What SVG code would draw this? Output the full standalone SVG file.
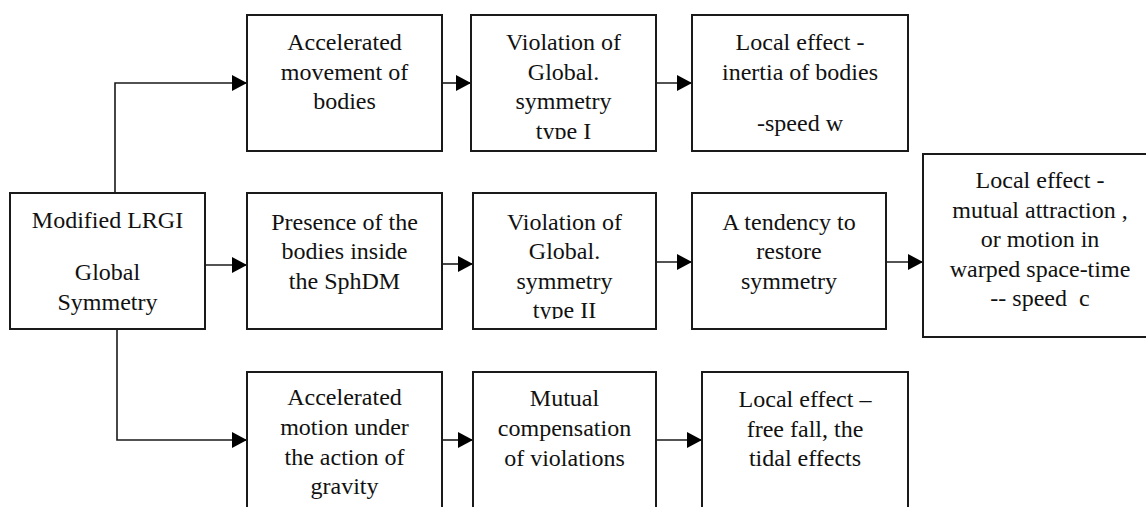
<svg xmlns="http://www.w3.org/2000/svg" width="1146" height="507" viewBox="0 0 1146 507">
<style>
.box{fill:#fff;stroke:#1a1a1a;stroke-width:2}
.t{font-family:'Liberation Serif','Tinos','DejaVu Serif','Noto Serif',serif;font-size:24px;fill:#111;text-anchor:middle}
.c{fill:none;stroke:#1a1a1a;stroke-width:1.6}
</style>
<defs>
<marker id="ah" markerUnits="userSpaceOnUse" markerWidth="16" markerHeight="18" refX="15" refY="8" orient="auto">
<path d="M0,0 L15,8 L0,16 Z" fill="#000"/>
</marker>
<clipPath id="clip1"><rect x="471" y="15" width="185" height="124"/></clipPath>
<clipPath id="clip2"><rect x="473" y="193" width="183" height="126"/></clipPath>
</defs>
<rect width="1146" height="507" fill="#fff"/>

<g id="connectors">
<path class="c" d="M115,193 V83 H247" marker-end="url(#ah)"/>
<path class="c" d="M442,83 H471" marker-end="url(#ah)"/>
<path class="c" d="M656,83 H692" marker-end="url(#ah)"/>
<path class="c" d="M205,265 H247" marker-end="url(#ah)"/>
<path class="c" d="M442,264 H473" marker-end="url(#ah)"/>
<path class="c" d="M656,262 H692" marker-end="url(#ah)"/>
<path class="c" d="M882,262 H923" marker-end="url(#ah)"/>
<path class="c" d="M117,329 V440 H247" marker-end="url(#ah)"/>
<path class="c" d="M442,440 H473" marker-end="url(#ah)"/>
<path class="c" d="M656,440 H702" marker-end="url(#ah)"/>
</g>

<g id="n-modified">
<rect class="box" x="10" y="193" width="195" height="136"/>
<text class="t" x="107.5" y="228">Modified LRGI</text>
<text class="t" x="107.5" y="280">Global</text>
<text class="t" x="107.5" y="310">Symmetry</text>
</g>

<g id="n-accel-move">
<rect class="box" x="247" y="15" width="195" height="136"/>
<text class="t" x="344.5" y="50">Accelerated</text>
<text class="t" x="344.5" y="79.5">movement of</text>
<text class="t" x="344.5" y="109">bodies</text>
</g>

<g id="n-viol1">
<rect class="box" x="471" y="15" width="185" height="136"/>
<g clip-path="url(#clip1)">
<text class="t" x="563.5" y="50">Violation of</text>
<text class="t" x="563.5" y="79.5">Global.</text>
<text class="t" x="563.5" y="109">symmetry</text>
<text class="t" x="563.5" y="138.5">type I</text>
</g>
</g>

<g id="n-local1">
<rect class="box" x="692" y="15" width="216" height="136"/>
<text class="t" x="800" y="50">Local effect -</text>
<text class="t" x="800" y="79.5">inertia of bodies</text>
<text class="t" x="800" y="131">-speed w</text>
</g>

<g id="n-presence">
<rect class="box" x="247" y="193" width="195" height="136"/>
<text class="t" x="344.5" y="229.5">Presence of the</text>
<text class="t" x="344.5" y="259">bodies inside</text>
<text class="t" x="344.5" y="288.5">the SphDM</text>
</g>

<g id="n-viol2">
<rect class="box" x="473" y="193" width="183" height="136"/>
<g clip-path="url(#clip2)">
<text class="t" x="564.5" y="229.5">Violation of</text>
<text class="t" x="564.5" y="259">Global.</text>
<text class="t" x="564.5" y="288.5">symmetry</text>
<text class="t" x="564.5" y="318">type II</text>
</g>
</g>

<g id="n-tendency">
<rect class="box" x="692" y="193" width="194" height="136"/>
<text class="t" x="789" y="229.5">A tendency to</text>
<text class="t" x="789" y="259">restore</text>
<text class="t" x="789" y="288.5">symmetry</text>
</g>

<g id="n-local-c">
<rect class="box" x="923" y="154" width="240" height="183"/>
<text class="t" x="1040" y="188">Local effect -</text>
<text class="t" x="1040" y="217.5">mutual attraction ,</text>
<text class="t" x="1040" y="247">or motion in</text>
<text class="t" x="1040" y="276.5">warped space-time</text>
<text class="t" x="1040" y="306" style="white-space:pre">-- speed  c</text>
</g>

<g id="n-accel-grav">
<rect class="box" x="247" y="372" width="195" height="150"/>
<text class="t" x="344.5" y="405">Accelerated</text>
<text class="t" x="344.5" y="435">motion under</text>
<text class="t" x="344.5" y="464.5">the action of</text>
<text class="t" x="344.5" y="494">gravity</text>
</g>

<g id="n-mutual">
<rect class="box" x="473" y="372" width="183" height="150"/>
<text class="t" x="564.5" y="406">Mutual</text>
<text class="t" x="564.5" y="436">compensation</text>
<text class="t" x="564.5" y="466">of violations</text>
</g>

<g id="n-local-fall">
<rect class="box" x="702" y="372" width="206" height="150"/>
<text class="t" x="805" y="407">Local effect –</text>
<text class="t" x="805" y="436.5">free fall, the</text>
<text class="t" x="805" y="466">tidal effects</text>
</g>
</svg>
